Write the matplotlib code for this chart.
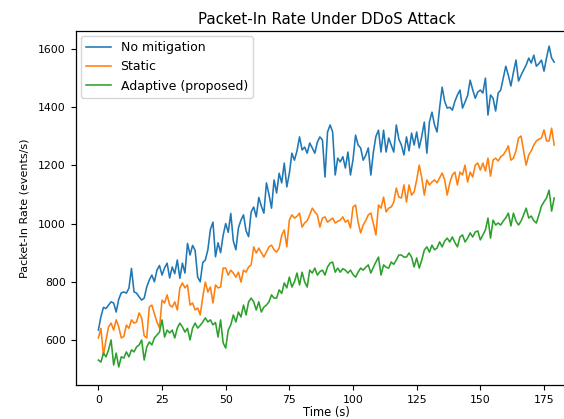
import numpy as np
import matplotlib
matplotlib.use("Agg")
import matplotlib.pyplot as plt

# time axis, one sample per second
t = np.arange(180)

no_mitigation = [
    634, 680, 712, 708, 720, 731, 727, 696, 740, 762,
    765, 761, 778, 846, 765, 761, 748, 737, 744, 782,
    806, 823, 800, 840, 856, 823, 848, 864, 813, 851,
    828, 875, 812, 864, 830, 932, 892, 925, 908, 816,
    800, 866, 875, 910, 980, 1005, 886, 934, 900, 960,
    1000, 970, 1035, 940, 910, 985, 1012, 1030, 975, 955,
    1040, 1057, 1023, 1090, 1060, 1036, 1140, 1100, 1053, 1150,
    1105, 1173, 1140, 1208, 1126, 1173, 1242, 1218, 1250, 1298,
    1253, 1263, 1242, 1277, 1260, 1242, 1280, 1298, 1287, 1160,
    1315, 1339, 1315, 1167, 1225, 1212, 1230, 1191, 1246, 1167,
    1220, 1304, 1270, 1260, 1218, 1235, 1260, 1167, 1246, 1300,
    1321, 1246, 1321, 1246, 1294, 1270, 1246, 1339, 1290, 1270,
    1236, 1298, 1250, 1311, 1270, 1315, 1260, 1300, 1349, 1242,
    1349, 1383, 1340, 1315, 1397, 1469, 1420, 1397, 1400, 1390,
    1420, 1442, 1459, 1397, 1418, 1440, 1493, 1460, 1431, 1452,
    1459, 1449, 1500, 1373, 1442, 1431, 1387, 1449, 1459, 1500,
    1541, 1510, 1473, 1520, 1562, 1490, 1510, 1528, 1545, 1569,
    1552, 1579, 1541, 1550, 1562, 1524, 1570, 1610, 1569, 1555,
]

static = [
    607, 640, 548, 600, 645, 658, 634, 669, 645, 607,
    612, 651, 640, 669, 658, 662, 693, 676, 614, 607,
    713, 720, 690, 662, 641, 737, 727, 755, 720, 713,
    731, 703, 779, 796, 779, 789, 720, 727, 703, 710,
    686, 748, 799, 765, 782, 727, 789, 779, 782, 847,
    847, 823, 840, 830, 816, 833, 799, 840, 833, 851,
    858, 920, 899, 916, 900, 885, 902, 920, 926, 910,
    902, 916, 960, 978, 920, 1012, 1030, 1019, 1025, 1036,
    988, 1002, 1010, 1030, 1053, 1040, 1030, 988, 1019, 1023,
    1005, 1012, 1019, 1002, 1008, 1012, 1023, 1005, 1012, 985,
    1057, 1064, 1005, 968, 995, 1010, 1030, 1036, 1000, 961,
    1064, 1053, 1091, 1040, 1053, 1057, 1074, 1122, 1091, 1088,
    1133, 1074, 1133, 1098, 1109, 1150, 1201, 1157, 1098, 1150,
    1133, 1143, 1150, 1140, 1157, 1174, 1150, 1098, 1140, 1167,
    1177, 1133, 1177, 1167, 1201, 1143, 1177, 1160, 1201, 1208,
    1184, 1208, 1181, 1225, 1163, 1218, 1225, 1215, 1230, 1236,
    1250, 1267, 1218, 1225, 1250, 1294, 1301, 1249, 1201, 1236,
    1250, 1270, 1284, 1290, 1294, 1322, 1284, 1284, 1328, 1270,
]

adaptive = [
    531, 524, 555, 542, 566, 600, 514, 555, 507, 542,
    538, 559, 542, 566, 559, 576, 583, 600, 531, 576,
    593, 583, 607, 617, 627, 669, 610, 634, 624, 634,
    607, 641, 658, 645, 627, 640, 600, 641, 658, 641,
    650, 662, 676, 662, 669, 652, 660, 610, 669, 590,
    572, 634, 652, 686, 662, 696, 679, 720, 686, 731,
    744, 731, 703, 731, 696, 713, 720, 731, 755, 744,
    744, 772, 760, 796, 779, 816, 782, 800, 830, 789,
    833, 800, 782, 840, 830, 847, 823, 835, 840, 823,
    851, 864, 868, 833, 847, 833, 845, 840, 830, 840,
    825, 816, 833, 847, 840, 850, 858, 830, 850, 868,
    885, 823, 858, 850, 847, 868, 860, 875, 892, 892,
    885, 885, 899, 885, 851, 882, 847, 875, 909, 920,
    902, 926, 910, 916, 937, 920, 940, 950, 937, 954,
    935, 920, 954, 961, 937, 950, 968, 954, 971, 975,
    944, 961, 978, 1019, 950, 1012, 995, 1002, 995, 1009,
    1020, 1036, 992, 1036, 1009, 995, 1009, 1030, 1053, 1019,
    1026, 1010, 1002, 1030, 1060, 1075, 1088, 1115, 1043, 1088,
]

labels = ["No mitigation", "Static", "Adaptive (proposed)"]

fig = plt.figure(figsize=(5.64, 4.19), dpi=100)
# axes run past the right edge of the canvas
ax = fig.add_axes([0.134, 0.081, 0.889, 0.845])

ax.plot(t, no_mitigation, color="#1f77b4", lw=1.15, label=labels[0])
ax.plot(t, static, color="#ff7f0e", lw=1.15, label=labels[1])
ax.plot(t, adaptive, color="#2ca02c", lw=1.15, label=labels[2])

ax.set_xlim(-8.95, 187.95)
ax.set_ylim(445, 1662)
ax.set_xticks(np.arange(0, 176, 25))
ax.set_yticks(np.arange(600, 1601, 200))
ax.tick_params(labelsize=7.8, length=3.5, width=0.8)
for s in ax.spines.values():
    s.set_linewidth(0.9)

ax.set_title("Packet-In Rate Under DDoS Attack", fontsize=10.8, pad=5)
ax.set_xlabel("Time (s)", fontsize=8.3, labelpad=1)
ax.set_ylabel("Packet-In Rate (events/s)", fontsize=8, labelpad=6)
ax.legend(loc="upper left", fontsize=9, handlelength=2.0, borderaxespad=0.4)

fig.savefig("out.png", dpi=100)
